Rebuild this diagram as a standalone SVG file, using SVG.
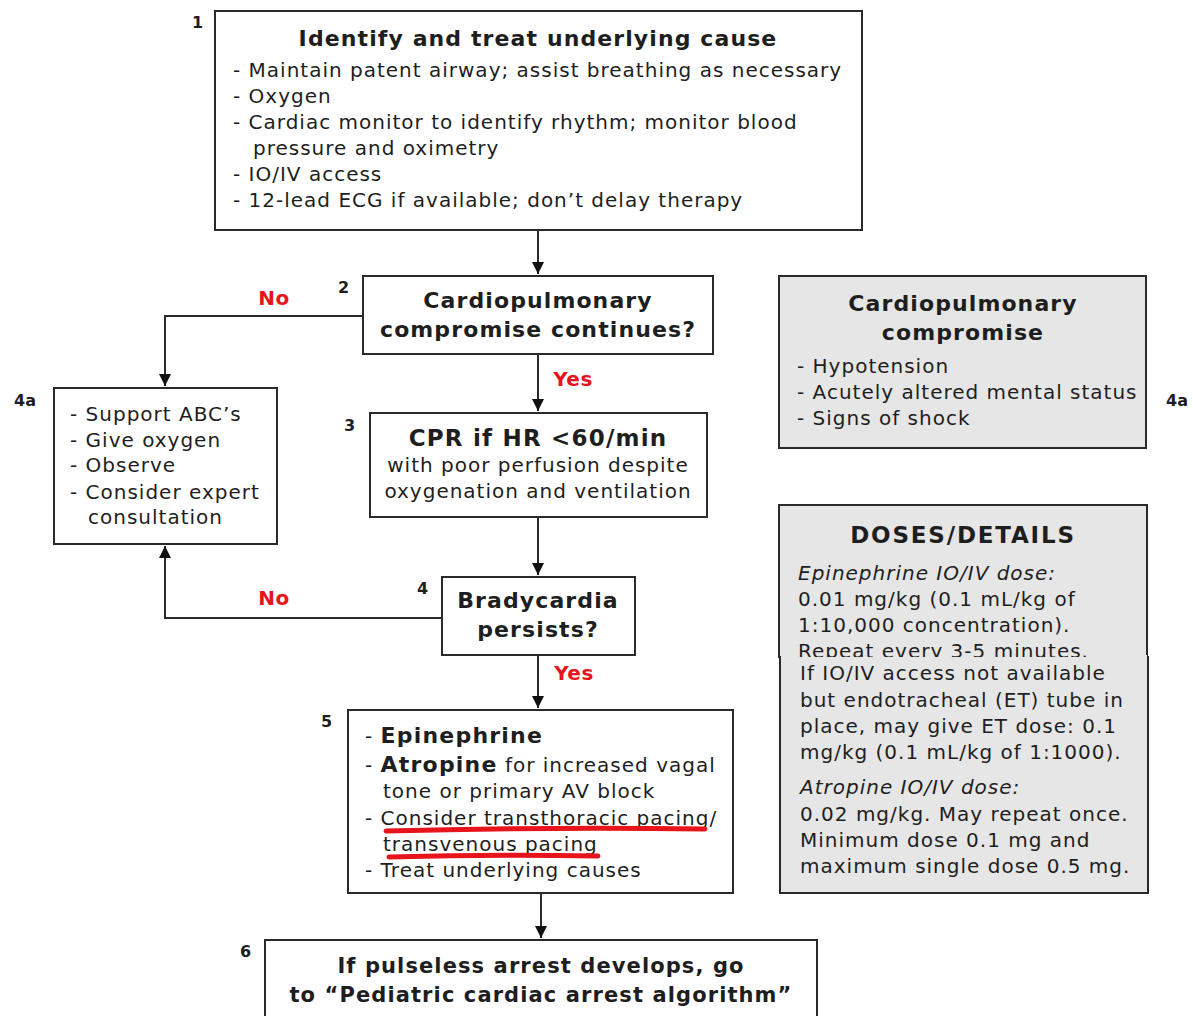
<svg xmlns="http://www.w3.org/2000/svg" width="1193" height="1016" viewBox="0 0 1193 1016">
<defs>
<style>
text{font-family:"DejaVu Sans","Liberation Sans",sans-serif;fill:#1e1e1e;font-size:20px;letter-spacing:1px}
.b{font-weight:bold;font-size:22px;letter-spacing:1.2px}
.t{font-weight:bold;font-size:22px;letter-spacing:1.1px;text-anchor:middle}
.c{text-anchor:middle}
.i{font-style:italic}
.num{font-size:16px;font-weight:bold;letter-spacing:0}
.red{fill:#e8141c;font-weight:bold;font-size:20px;letter-spacing:0.5px;text-anchor:middle}
.box{fill:#fff;stroke:#2a2a2a;stroke-width:2}
.gray{fill:#e6e6e6;stroke:#2a2a2a;stroke-width:2}
.ln{fill:none;stroke:#2a2a2a;stroke-width:2}
.ul{fill:none;stroke:#e8141c;stroke-width:5;stroke-linecap:round}
</style>
<marker id="ah" markerWidth="12" markerHeight="16" refX="12" refY="6" orient="auto" markerUnits="userSpaceOnUse" viewBox="0 0 12 16">
<path d="M0,0 L12,6 L0,12 Z" fill="#111"/>
</marker>
<clipPath id="clipTop"><rect x="779" y="505" width="370" height="152"/></clipPath>
</defs>

<g id="connectors">
<line class="ln" x1="538" y1="230" x2="538" y2="274" marker-end="url(#ah)"/>
<path class="ln" d="M363,316 H165 V386" marker-end="url(#ah)"/>
<line class="ln" x1="538" y1="354" x2="538" y2="411" marker-end="url(#ah)"/>
<line class="ln" x1="538" y1="517" x2="538" y2="575" marker-end="url(#ah)"/>
<path class="ln" d="M442,618 H165 V546" marker-end="url(#ah)"/>
<line class="ln" x1="538" y1="655" x2="538" y2="708" marker-end="url(#ah)"/>
<line class="ln" x1="541" y1="893" x2="541" y2="938" marker-end="url(#ah)"/>
<text class="red" x="274" y="305">No</text>
<text class="red" x="573" y="386">Yes</text>
<text class="red" x="274" y="605">No</text>
<text class="red" x="574" y="680">Yes</text>
</g>

<g id="node1">
<rect class="box" x="215" y="11" width="647" height="219"/>
<text class="num" x="192" y="28">1</text>
<text class="t" x="538" y="46">Identify and treat underlying cause</text>
<text x="233" y="77">- Maintain patent airway; assist breathing as necessary</text>
<text x="233" y="103">- Oxygen</text>
<text x="233" y="129">- Cardiac monitor to identify rhythm; monitor blood</text>
<text x="253" y="155">pressure and oximetry</text>
<text x="233" y="181">- IO/IV access</text>
<text x="233" y="207">- 12-lead ECG if available; don’t delay therapy</text>
</g>

<g id="node2">
<rect class="box" x="363" y="276" width="350" height="78"/>
<text class="num" x="338" y="293">2</text>
<text class="t" x="538" y="308">Cardiopulmonary</text>
<text class="t" x="538" y="337">compromise continues?</text>
</g>

<g id="node4a">
<rect class="box" x="54" y="388" width="223" height="156"/>
<text class="num" x="14" y="406">4a</text>
<text x="70" y="421">- Support ABC’s</text>
<text x="70" y="447">- Give oxygen</text>
<text x="70" y="472">- Observe</text>
<text x="70" y="499">- Consider expert</text>
<text x="88" y="524">consultation</text>
</g>

<g id="node3">
<rect class="box" x="370" y="413" width="337" height="104"/>
<text class="num" x="344" y="431">3</text>
<text class="t" x="538" y="446" style="font-size:23px;letter-spacing:1.2px">CPR if HR &lt;60/min</text>
<text class="c" x="538" y="472">with poor perfusion despite</text>
<text class="c" x="538" y="498">oxygenation and ventilation</text>
</g>

<g id="node4">
<rect class="box" x="442" y="577" width="193" height="78"/>
<text class="num" x="417" y="594">4</text>
<text class="t" x="538" y="608">Bradycardia</text>
<text class="t" x="538" y="637">persists?</text>
</g>

<g id="node5">
<rect class="box" x="348" y="710" width="385" height="183"/>
<text class="num" x="321" y="727">5</text>
<text x="365" y="743">- <tspan class="b">Epinephrine</tspan></text>
<text x="365" y="772">- <tspan class="b">Atropine</tspan> for increased vagal</text>
<text x="383" y="798">tone or primary AV block</text>
<text x="365" y="825">- Consider transthoracic pacing/</text>
<text x="383" y="851">transvenous pacing</text>
<text x="365" y="877">- Treat underlying causes</text>
<path class="ul" d="M386,831 Q545,827 705,829"/>
<path class="ul" d="M389,857 Q495,854 598,856"/>
</g>

<g id="node6">
<rect class="box" x="265" y="940" width="552" height="90"/>
<text class="num" x="240" y="957">6</text>
<text class="t" x="541" y="973" style="font-size:21px">If pulseless arrest develops, go</text>
<text class="t" x="541" y="1002" style="font-size:21px">to “Pediatric cardiac arrest algorithm”</text>
</g>

<g id="nodeCompromise">
<rect class="gray" x="779" y="276" width="367" height="172"/>
<text class="num" x="1166" y="406">4a</text>
<text class="t" x="963" y="311">Cardiopulmonary</text>
<text class="t" x="963" y="340">compromise</text>
<text x="797" y="373">- Hypotension</text>
<text x="797" y="399">- Acutely altered mental status</text>
<text x="797" y="425">- Signs of shock</text>
</g>

<g id="nodeDoses">
<rect class="gray" x="779" y="505" width="368" height="152"/>
<rect class="gray" x="780" y="657" width="368" height="236"/>
<rect x="781" y="655" width="366" height="4" fill="#e6e6e6"/>
<text class="t" x="963" y="543" style="font-size:23px;letter-spacing:1.8px">DOSES/DETAILS</text>
<g clip-path="url(#clipTop)">
<text class="i" x="798" y="580">Epinephrine IO/IV dose:</text>
<text x="798" y="606">0.01 mg/kg (0.1 mL/kg of</text>
<text x="798" y="632">1:10,000 concentration).</text>
<text x="798" y="658">Repeat every 3-5 minutes.</text>
</g>
<text x="800" y="680">If IO/IV access not available</text>
<text x="800" y="707">but endotracheal (ET) tube in</text>
<text x="800" y="733">place, may give ET dose: 0.1</text>
<text x="800" y="759">mg/kg (0.1 mL/kg of 1:1000).</text>
<text class="i" x="800" y="794">Atropine IO/IV dose:</text>
<text x="800" y="821">0.02 mg/kg. May repeat once.</text>
<text x="800" y="847">Minimum dose 0.1 mg and</text>
<text x="800" y="873">maximum single dose 0.5 mg.</text>
</g>
</svg>
